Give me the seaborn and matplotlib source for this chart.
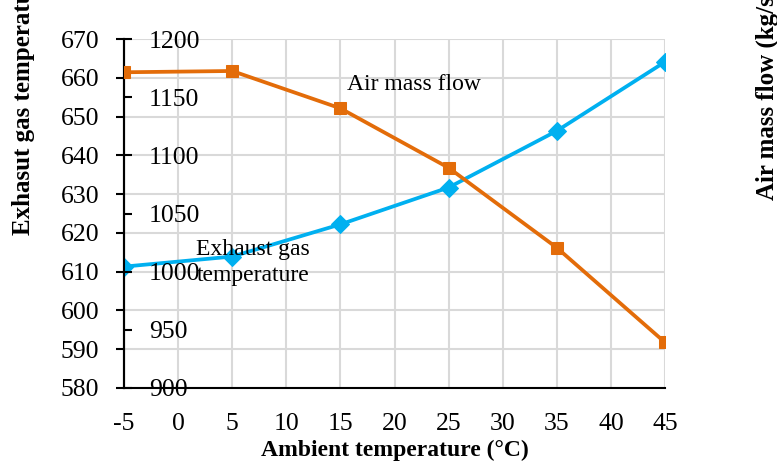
import matplotlib
matplotlib.use("Agg")
import matplotlib.pyplot as plt
import seaborn as sns
import pandas as pd

ambient_temp = [-5, 5, 15, 25, 35, 45]
exhaust_gas_temp = [611.3, 613.9, 622.2, 631.7, 646.3, 664.1]
air_mass_flow = [1171.4, 1172.5, 1140.4, 1089.3, 1020.6, 939.2]

x_ticks = [-5, 0, 5, 10, 15, 20, 25, 30, 35, 40, 45]
left_ticks = [580, 590, 600, 610, 620, 630, 640, 650, 660, 670]
right_ticks = [900, 950, 1000, 1050, 1100, 1150, 1200]

sns.set_theme(style="white")
plt.rcParams['font.family'] = ['Liberation Serif', 'DejaVu Serif']
plt.rcParams['text.color'] = 'black'
plt.rcParams['axes.labelcolor'] = 'black'
plt.rcParams['xtick.color'] = 'black'
plt.rcParams['ytick.color'] = 'black'

df = pd.DataFrame({"t": ambient_temp, "egt": exhaust_gas_temp, "amf": air_mass_flow})

fig = plt.figure(figsize=(7.77, 4.66), dpi=100)
ax = fig.add_axes([124/777, 1-388/466, (665-124)/777, (388-39)/466])

blue = "#00B0F0"
orange = "#E36C09"

sns.lineplot(data=df, x="t", y="egt", ax=ax, color=blue, linewidth=2.7,
             marker="D", markersize=9.5, markeredgecolor=blue, zorder=3)
ax.set_xlim(-5, 45)
ax.set_ylim(580, 670)
ax.set_xticks(x_ticks)
ax.set_xticklabels([str(v) for v in x_ticks])
ax.set_yticks(left_ticks)
ax.set_yticklabels([str(v) for v in left_ticks])
ax.grid(True, color="#D9D9D9", linewidth=1.5)
ax.set_axisbelow(True)
for s in ["top", "right"]:
    ax.spines[s].set_visible(False)
for s in ["left", "bottom"]:
    ax.spines[s].set_color("black")
    ax.spines[s].set_linewidth(1.5)
ax.tick_params(axis="both", which="major", direction="out", length=6, width=1.5,
               color="black", labelsize=18.5, labelcolor="black")
ax.tick_params(axis="y", pad=12)
ax.tick_params(axis="x", pad=12)
ax.set_xlabel("Ambient temperature (°C)", fontsize=17, fontweight="bold",
              labelpad=3.5, color="black")
ax.set_ylabel("")

ax2 = ax.twinx()
sns.lineplot(data=df, x="t", y="amf", ax=ax2, color=orange, linewidth=2.7,
             marker="s", markersize=9, markeredgecolor=orange, zorder=3)
ax2.set_ylim(900, 1200)
ax2.set_yticks(right_ticks)
ax2.set_yticklabels([str(v) for v in right_ticks])
ax2.set_ylabel("")
ax2.grid(False)
for s in ["top", "left", "bottom"]:
    ax2.spines[s].set_visible(False)
ax2.spines["right"].set_position(("axes", 0))
ax2.spines["right"].set_color("black")
ax2.spines["right"].set_linewidth(1.5)
ax2.tick_params(axis="y", direction="out", length=6, width=1.5, color="black",
                labelsize=18.5, labelcolor="black", pad=12)

ax2.text(15.6, 1161, "Air mass flow", fontsize=17, ha="left", va="center",
         color="black")
ax.text(1.7, 612.4, "Exhaust gas\ntemperature", fontsize=17, ha="left",
        va="center", linespacing=1.3, color="black")

fig.text(23/777, 1-235/466, "Exhasut gas temperature (°C)", rotation=90,
         ha="center", va="bottom", fontsize=18, fontweight="bold", color="black")
fig.text(767/777, 1-200/466, "Air mass flow (kg/s)", rotation=90,
         ha="center", va="bottom", fontsize=18, fontweight="bold", color="black")

fig.savefig("out.png", dpi=100)
